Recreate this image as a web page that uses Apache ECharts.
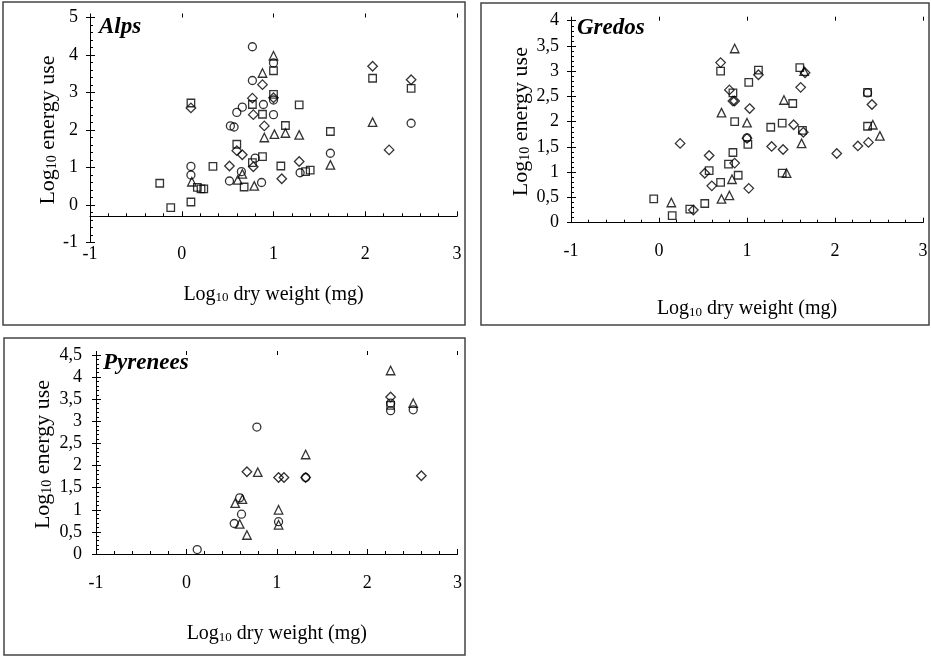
<!DOCTYPE html>
<html>
<head>
<meta charset="utf-8">
<script src="https://cdn.jsdelivr.net/npm/echarts@6/dist/echarts.min.js"></script>
<style>
html, body { margin: 0; padding: 0; background: #fff; }
#chart { width: 931px; height: 656px; }
</style>
</head>
<body>
<div id="chart"></div>
<script>
// Alps
var alpsCircle = [[0.10,1.03],[0.10,0.80],[0.53,2.11],[0.57,2.08],[0.52,0.64],[0.60,2.47],[0.66,2.61],[0.65,0.89],[0.77,4.22],[0.77,3.32],[0.80,1.25],[0.89,2.68],[0.87,0.60],[1.00,3.79],[1.00,2.80],[1.00,2.41],[1.29,0.86],[1.62,1.38],[2.50,2.18]];
var alpsSquare = [[-0.24,0.58],[-0.12,-0.07],[0.10,0.08],[0.10,2.72],[0.17,0.47],[0.21,0.43],[0.24,0.43],[0.34,1.03],[0.60,1.62],[0.68,0.48],[0.77,2.68],[0.77,1.13],[0.88,2.42],[0.88,1.29],[1.00,3.58],[1.00,2.95],[1.08,1.04],[1.13,2.12],[1.28,2.67],[1.35,0.89],[1.40,0.93],[1.62,1.96],[2.08,3.38],[2.50,3.11]];
var alpsTriangle = [[0.11,0.62],[0.61,0.67],[0.66,0.83],[0.79,0.51],[0.88,3.52],[0.90,1.80],[1.00,3.98],[1.01,1.89],[1.13,1.92],[1.28,1.87],[1.62,1.07],[2.08,2.21]];
var alpsDiamond = [[0.10,2.59],[0.52,1.04],[0.60,1.45],[0.66,1.34],[0.77,2.85],[0.78,2.41],[0.78,1.02],[0.88,3.21],[0.90,2.11],[1.00,2.86],[1.09,0.70],[1.28,1.16],[2.08,3.70],[2.26,1.47],[2.50,3.34]];

// Gredos
var gredosCircle = [[2.37,2.57],[1.00,1.68]];
var gredosSquare = [[-0.06,0.47],[0.15,0.14],[0.35,0.27],[0.52,0.38],[0.57,1.03],[0.70,3.00],[0.70,0.80],[0.79,1.16],[0.84,2.57],[0.84,1.39],[0.86,2.00],[0.90,0.94],[1.01,1.55],[1.02,2.78],[1.13,3.02],[1.27,1.89],[1.40,1.97],[1.40,0.98],[1.52,2.36],[1.60,3.07],[1.63,1.83],[2.37,1.91],[2.37,2.58]];
var gredosTriangle = [[0.14,0.40],[0.71,2.18],[0.71,0.47],[0.80,0.54],[0.83,0.86],[0.86,3.45],[1.00,1.98],[1.42,2.43],[1.45,0.98],[1.62,1.57],[1.65,3.00],[2.43,1.94],[2.51,1.72]];
var gredosDiamond = [[0.24,1.57],[0.39,0.25],[0.52,0.98],[0.57,1.33],[0.60,0.73],[0.70,3.17],[0.80,2.63],[0.84,2.41],[0.86,2.41],[0.86,1.18],[1.00,1.67],[1.02,0.68],[1.03,2.26],[1.13,2.93],[1.28,1.51],[1.41,1.45],[1.53,1.94],[1.61,2.68],[1.64,1.79],[1.66,2.97],[2.02,1.37],[2.26,1.52],[2.38,1.59],[2.42,2.34]];

// Pyrenees
var pyrCircle = [[0.12,0.10],[0.53,0.69],[0.59,1.27],[0.61,0.90],[0.78,2.87],[1.02,0.73],[1.32,1.73],[2.26,3.41],[2.26,3.24],[2.51,3.26]];
var pyrSquare = [[2.26,3.36]];
var pyrTriangle = [[0.54,1.15],[0.59,0.68],[0.62,1.24],[0.67,0.43],[0.79,1.85],[1.02,1.00],[1.02,0.66],[1.32,2.25],[2.26,4.15],[2.51,3.41]];
var pyrDiamond = [[0.67,1.86],[1.02,1.73],[1.08,1.73],[1.32,1.73],[2.26,3.55],[2.60,1.77]];

var xMin = -1, xMax = 3, xStep = 1;
var FONT = 'Liberation Serif';

var chart = echarts.init(document.getElementById('chart'));
var grids = [], xAxes = [], yAxes = [], series = [], titles = [];

function comma(v) { return String(v).replace('.', ','); }

function richName(rest, size) {
  return {
    text: '{n|Log}{s|10}{n|' + rest + '}',
    style: {
      color: '#000',
      rich: {
        n: { fontFamily: FONT, fontSize: size, lineHeight: size + 4, color: '#000', verticalAlign: 'bottom' },
        s: { fontFamily: FONT, fontSize: Math.round(size * 0.65), lineHeight: Math.round(size * 0.75), color: '#000', verticalAlign: 'bottom' }
      }
    }
  };
}

function addPanel(o) {
  var gi = grids.length, xi = xAxes.length, yi = yAxes.length;
  grids.push({ left: o.left, top: o.top, width: o.w, height: o.h, outerBoundsMode: 'none' });
  var crossY = o.top + (o.ymax - o.xCross) / (o.ymax - o.ymin) * o.h;
  grids.push({ left: o.left, top: o.top, width: o.w, height: crossY - o.top, outerBoundsMode: 'none' });

  var xn = richName(' dry weight (mg)', 20);
  var yn = richName(' energy use', 22);
  var labelStyle = { fontFamily: FONT, fontSize: 18, color: '#000' };

  // x labels at the bottom of the plot
  xAxes.push({
    gridIndex: gi, type: 'value', min: xMin, max: xMax, interval: xStep,
    axisLine: { show: false, onZero: false }, axisTick: { show: false }, splitLine: { show: false },
    axisLabel: Object.assign({ margin: o.xLabelMargin }, labelStyle),
    name: xn.text, nameLocation: 'middle', nameGap: o.xNameGap, nameTextStyle: xn.style
  });
  // x axis line where it crosses, with inside + outside ticks
  xAxes.push({
    gridIndex: gi + 1, type: 'value', min: xMin, max: xMax, interval: xStep,
    axisLine: { onZero: false, lineStyle: { color: '#000', width: 1 } },
    axisTick: { inside: true, length: 5, lineStyle: { color: '#000' } },
    minorTick: { show: true, splitNumber: 5, length: 3, lineStyle: { color: '#000' } },
    axisLabel: { show: false }, splitLine: { show: false }
  });
  xAxes.push({
    gridIndex: gi + 1, type: 'value', min: xMin, max: xMax, interval: xStep,
    axisLine: { show: false, onZero: false },
    axisTick: { inside: false, length: 4, lineStyle: { color: '#000' } },
    axisLabel: { show: false }, splitLine: { show: false }
  });

  yAxes.push({
    gridIndex: gi, type: 'value', min: o.ymin, max: o.ymax, interval: o.yStep, position: 'left',
    axisLine: { show: true, onZero: false, lineStyle: { color: '#000', width: 1 } },
    axisTick: { show: true, inside: true, length: 5, lineStyle: { color: '#000' } },
    minorTick: { show: true, splitNumber: 5, length: 3, lineStyle: { color: '#000' } },
    splitLine: { show: false },
    axisLabel: Object.assign({ margin: o.yLabelMargin, formatter: comma }, labelStyle),
    name: yn.text, nameLocation: 'middle', nameGap: o.yNameGap, nameRotate: 90, nameTextStyle: yn.style
  });
  yAxes.push({
    gridIndex: gi, type: 'value', min: o.ymin, max: o.ymax, interval: o.yStep, position: 'left',
    axisLine: { show: false, onZero: false },
    axisTick: { show: true, inside: false, length: 4, lineStyle: { color: '#000' } },
    axisLabel: { show: false }, splitLine: { show: false }
  });
  yAxes.push({ gridIndex: gi + 1, type: 'value', min: o.xCross, max: o.ymax, show: false, axisLine: { onZero: false } });

  titles.push({
    text: o.name, left: o.titleLeft, top: o.titleTop,
    textStyle: { fontFamily: FONT, fontSize: 23, fontStyle: 'italic', fontWeight: 'bold', color: '#000' }
  });

  var sets = [['circle', o.circle, 8], ['rect', o.square, 7.5], ['triangle', o.triangle, 8.5], ['diamond', o.diamond, 9.5]];
  sets.forEach(function (s) {
    series.push({
      type: 'scatter', xAxisIndex: xi, yAxisIndex: yi,
      symbol: s[0], symbolSize: s[2], data: s[1],
      itemStyle: { color: 'rgba(0,0,0,0)', borderColor: '#000', borderWidth: 1.3 },
      emphasis: { disabled: true }
    });
  });
}

addPanel({
  name: 'Alps', left: 90, top: 17.5, w: 367, h: 225, ymin: -1, ymax: 5, yStep: 1, xCross: -0.3,
  xLabelMargin: 3, xNameGap: 38, yLabelMargin: 12, yNameGap: 30, titleLeft: 94, titleTop: 11,
  circle: alpsCircle, square: alpsSquare, triangle: alpsTriangle, diamond: alpsDiamond
});
addPanel({
  name: 'Gredos', left: 571, top: 20.7, w: 352, h: 202, ymin: 0, ymax: 4, yStep: 0.5, xCross: 0,
  xLabelMargin: 20, xNameGap: 72, yLabelMargin: 12, yNameGap: 36, titleLeft: 572, titleTop: 12,
  circle: gredosCircle, square: gredosSquare, triangle: gredosTriangle, diamond: gredosDiamond
});
addPanel({
  name: 'Pyrenees', left: 96, top: 355, w: 361.5, h: 199, ymin: 0, ymax: 4.5, yStep: 0.5, xCross: 0,
  xLabelMargin: 20, xNameGap: 66, yLabelMargin: 14, yNameGap: 42, titleLeft: 98, titleTop: 347,
  circle: pyrCircle, square: pyrSquare, triangle: pyrTriangle, diamond: pyrDiamond
});

var boxStyle = { fill: 'none', stroke: '#444', lineWidth: 1.5 };
chart.setOption({
  animation: false,
  backgroundColor: '#fff',
  title: titles,
  grid: grids,
  xAxis: xAxes,
  yAxis: yAxes,
  series: series,
  graphic: [
    { type: 'rect', shape: { x: 3, y: 2, width: 462, height: 323 }, style: boxStyle, silent: true },
    { type: 'rect', shape: { x: 481, y: 3, width: 448, height: 322 }, style: boxStyle, silent: true },
    { type: 'rect', shape: { x: 4, y: 338, width: 461, height: 317 }, style: boxStyle, silent: true }
  ]
});
</script>
</body>
</html>
